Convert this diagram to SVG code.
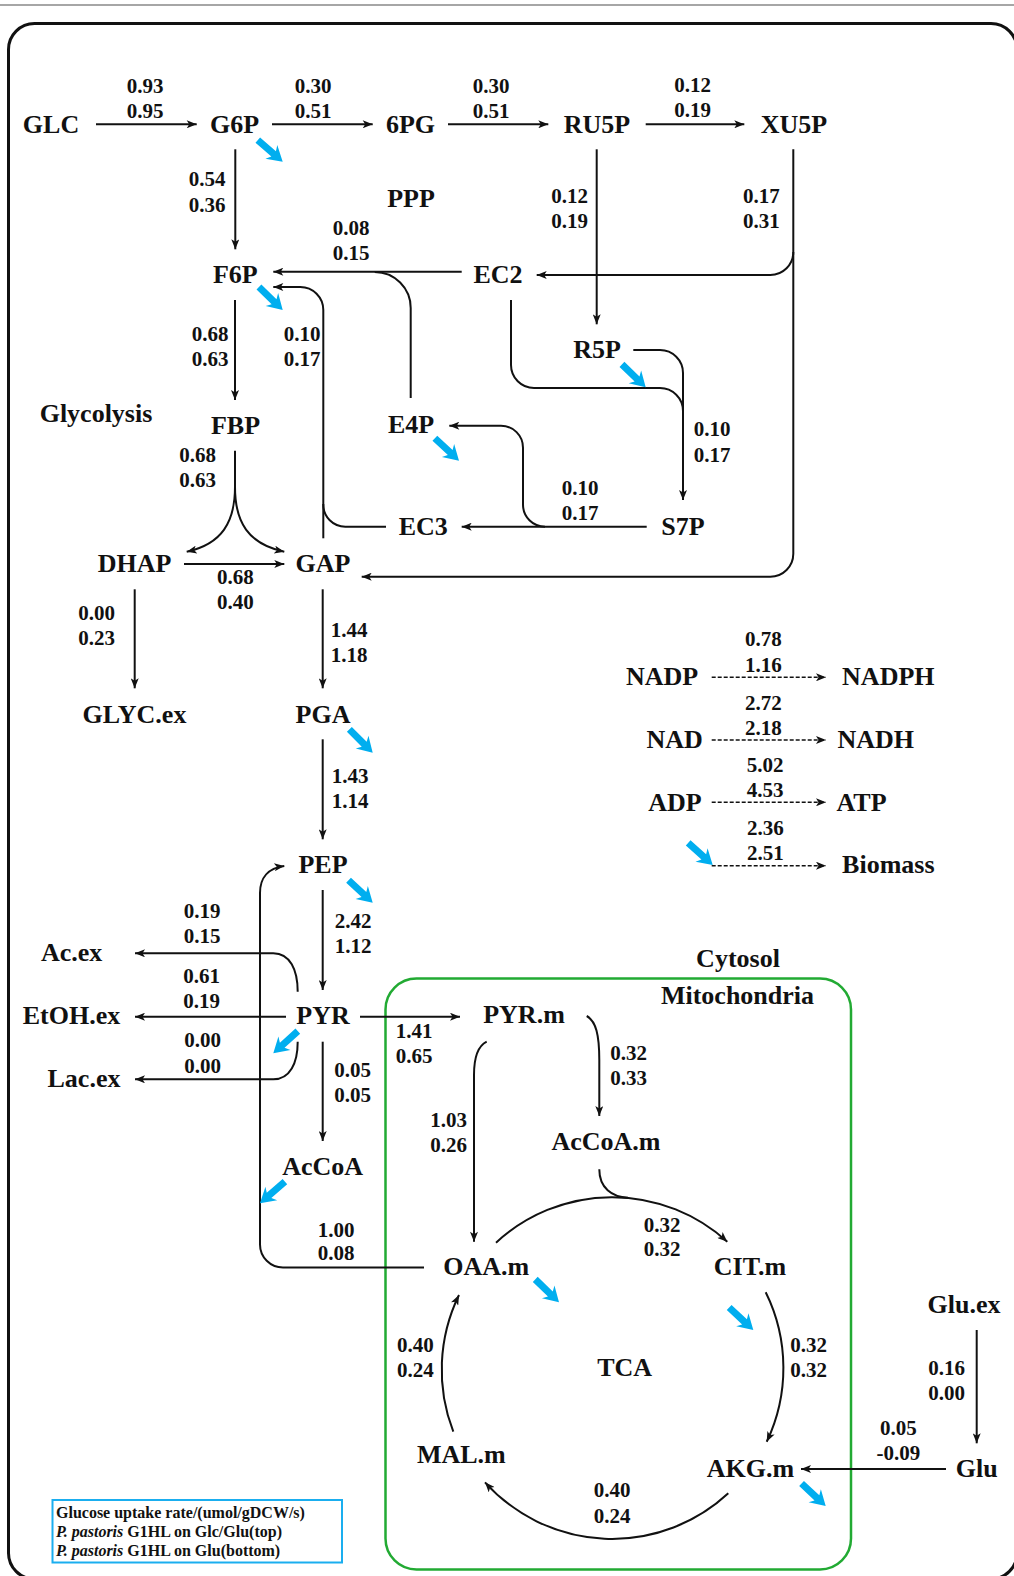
<svg xmlns="http://www.w3.org/2000/svg" xmlns:xlink="http://www.w3.org/1999/xlink" width="1014" height="1576" viewBox="0 0 1014 1576">
<defs>
<style>
.n{font-family:"Liberation Serif","Times New Roman",serif;font-weight:bold;font-size:26px;fill:#111;text-anchor:middle}
.v{font-family:"Liberation Serif","Times New Roman",serif;font-weight:bold;font-size:21px;fill:#111;text-anchor:middle}
.lg{font-family:"Liberation Serif","Times New Roman",serif;font-weight:bold;font-size:16px;fill:#111}
.c{fill:none;stroke:#111;stroke-width:2}
.a{marker-end:url(#ah)}
.d{fill:none;stroke:#111;stroke-width:1.6;stroke-dasharray:4 2;marker-end:url(#ah)}
.blue{fill:#00AEEF}
</style>
<marker id="ah" viewBox="0 0 10 8" refX="10" refY="4" markerWidth="11" markerHeight="8" markerUnits="userSpaceOnUse" orient="auto">
<path d="M0,0 L10,4 L0,8 L2.5,4 z" fill="#111"/>
</marker>
<path id="ba" d="M0,0 L-15,-9 L-12,-3.5 L-33,-3.5 L-33,3.5 L-12,3.5 L-15,9 Z"/>
</defs>
<rect width="1014" height="1576" fill="#fff"/>
<line x1="0" y1="5" x2="1014" y2="5" stroke="#888" stroke-width="1.5"/>
<rect x="8.5" y="23.5" width="1008.5" height="1555.5" rx="26" fill="none" stroke="#111" stroke-width="3"/>
<rect id="mito" x="385.5" y="978.5" width="465.5" height="591" rx="31" fill="none" stroke="#22AA33" stroke-width="2.5"/>

<g id="connectors">
<path class="c a" d="M96,124.3 H196.7"/>
<path class="c a" d="M272,124.3 H372.7"/>
<path class="c a" d="M448,124.3 H548.3"/>
<path class="c a" d="M645.7,124.3 H744.3"/>
<path class="c a" d="M235.3,149.3 V249.3"/>
<path class="c a" d="M461.7,271.7 H273.3"/>
<path class="c" d="M410.7,398 V308 A36,36 0 0 0 374.7,272"/>
<path class="c a" d="M793.3,149.3 V553.7 A23,23 0 0 1 770.3,576.7 H361.7"/>
<path class="c a" d="M793.3,252 A23,23 0 0 1 770.3,275 H536.7"/>
<path class="c a" d="M596.7,149.3 V324.3"/>
<path class="c" d="M511,300 V365 A23,23 0 0 0 534,388 H660 A23,23 0 0 1 683,411"/>
<path class="c a" d="M633.3,350 H660 A23,23 0 0 1 683,373 V500"/>
<path class="c a" d="M646.7,526.7 H461.7"/>
<path class="c a" d="M545,526.7 A22,22 0 0 1 523,504.7 V447.7 A22,22 0 0 0 501,425.7 H449.3"/>
<path class="c a" d="M386,526.7 H345.3 A22,22 0 0 1 323.3,504.7 V310 A23,23 0 0 0 300.3,287 H273.3"/>
<path class="c" d="M323.3,538.3 V504"/>
<path class="c a" d="M235,300 V400"/>
<path class="c" d="M235,450.7 V487"/>
<path class="c a" d="M235,487 C235,522 222,544 186.7,551.7"/>
<path class="c a" d="M235,487 C235,522 248,544 284.3,551.7"/>
<path class="c a" d="M184,564 H284.3"/>
<path class="c a" d="M134.7,589.3 V688.3"/>
<path class="c a" d="M322.7,589.3 V688.3"/>
<path class="c a" d="M322.7,739.3 V839.3"/>
<path class="c a" d="M322.7,890 V990"/>
<path class="c a" d="M297.7,991.7 C297.7,970 290,953.3 273.3,953.3 H135"/>
<path class="c a" d="M286,1016.7 H135"/>
<path class="c a" d="M297.7,1041.7 C297.7,1063 290,1079.3 273.3,1079.3 H135"/>
<path class="c a" d="M322.7,1041.7 V1141"/>
<path class="c a" d="M360,1016.7 H460"/>
<path class="c a" d="M424,1267.5 H283 A23,23 0 0 1 260,1244.5 V893 C260,878 268,868 284.3,866"/>
<path class="c a" d="M586.7,1016 C596,1021 599.3,1035 599.3,1060 V1116"/>
<path class="c a" d="M486.7,1041.7 C478,1046 474,1056 474,1075 V1241.7"/>
<path class="c" d="M599.3,1169.3 C599.3,1188 612,1197 628,1197.8"/>
<path class="c a" d="M496,1242.7 A171,171 0 0 1 727.3,1241.7"/>
<path class="c a" d="M765.7,1292.3 A171,171 0 0 1 766.7,1441.7"/>
<path class="c a" d="M728.3,1493.3 A171,171 0 0 1 485,1482.3"/>
<path class="c a" d="M453.3,1431.7 A171,171 0 0 1 459,1295"/>
<path class="c a" d="M946,1469 H801"/>
<path class="c a" d="M976.7,1330 V1443.3"/>
<path class="d" d="M711.7,677.3 H826"/>
<path class="d" d="M711.7,740 H826"/>
<path class="d" d="M711.7,802.3 H826"/>
<path class="d" d="M711.7,865.7 H826"/>
</g>

<g id="outflux" class="blue">
<use xlink:href="#ba" transform="translate(282.7,161.7) rotate(41)"/>
<use xlink:href="#ba" transform="translate(282.7,310) rotate(44)"/>
<use xlink:href="#ba" transform="translate(645.7,387.3) rotate(44)"/>
<use xlink:href="#ba" transform="translate(459,460.7) rotate(43)"/>
<use xlink:href="#ba" transform="translate(372.7,752.7) rotate(45)"/>
<use xlink:href="#ba" transform="translate(372.7,902.7) rotate(43)"/>
<use xlink:href="#ba" transform="translate(273.3,1053.3) rotate(138)"/>
<use xlink:href="#ba" transform="translate(260,1203.3) rotate(139)"/>
<use xlink:href="#ba" transform="translate(559,1302.3) rotate(44)"/>
<use xlink:href="#ba" transform="translate(753.3,1330) rotate(43)"/>
<use xlink:href="#ba" transform="translate(825.7,1506) rotate(43)"/>
<use xlink:href="#ba" transform="translate(712.7,865) rotate(42)"/>
</g>

<g id="nodes">
<g id="GLC"><text class="n" x="51" y="133">GLC</text></g>
<g id="G6P"><text class="n" x="234.5" y="133">G6P</text></g>
<g id="6PG"><text class="n" x="410.5" y="133">6PG</text></g>
<g id="RU5P"><text class="n" x="597" y="133">RU5P</text></g>
<g id="XU5P"><text class="n" x="794" y="133">XU5P</text></g>
<g id="PPP"><text class="n" x="411" y="207">PPP</text></g>
<g id="F6P"><text class="n" x="235.3" y="283.3">F6P</text></g>
<g id="EC2"><text class="n" x="498" y="283.3">EC2</text></g>
<g id="R5P"><text class="n" x="597" y="358.3">R5P</text></g>
<g id="Glycolysis"><text class="n" x="96" y="421.7">Glycolysis</text></g>
<g id="FBP"><text class="n" x="235.5" y="434">FBP</text></g>
<g id="E4P"><text class="n" x="411" y="433.3">E4P</text></g>
<g id="EC3"><text class="n" x="423.3" y="535">EC3</text></g>
<g id="S7P"><text class="n" x="683" y="535">S7P</text></g>
<g id="DHAP"><text class="n" x="134.5" y="571.7">DHAP</text></g>
<g id="GAP"><text class="n" x="323" y="571.7">GAP</text></g>
<g id="GLYCex"><text class="n" x="134.5" y="722.7">GLYC.ex</text></g>
<g id="PGA"><text class="n" x="323" y="722.7">PGA</text></g>
<g id="PEP"><text class="n" x="323" y="873.3">PEP</text></g>
<g id="Acex"><text class="n" x="71.7" y="961">Ac.ex</text></g>
<g id="EtOHex"><text class="n" x="71.5" y="1024">EtOH.ex</text></g>
<g id="PYR"><text class="n" x="323" y="1024">PYR</text></g>
<g id="Lacex"><text class="n" x="84" y="1087.3">Lac.ex</text></g>
<g id="AcCoA"><text class="n" x="322.7" y="1175">AcCoA</text></g>
<g id="Cytosol"><text class="n" x="738" y="966.7">Cytosol</text></g>
<g id="Mitochondria"><text class="n" x="737.5" y="1004">Mitochondria</text></g>
<g id="PYRm"><text class="n" x="524" y="1023.3">PYR.m</text></g>
<g id="AcCoAm"><text class="n" x="606" y="1150">AcCoA.m</text></g>
<g id="OAAm"><text class="n" x="486.3" y="1275">OAA.m</text></g>
<g id="CITm"><text class="n" x="750" y="1275">CIT.m</text></g>
<g id="TCA"><text class="n" x="624.7" y="1375.7">TCA</text></g>
<g id="MALm"><text class="n" x="461.3" y="1463.3">MAL.m</text></g>
<g id="AKGm"><text class="n" x="750.5" y="1476.7">AKG.m</text></g>
<g id="Gluex"><text class="n" x="964" y="1313.3">Glu.ex</text></g>
<g id="Glu"><text class="n" x="976.7" y="1476.7">Glu</text></g>
<g id="NADP"><text class="n" x="662" y="685">NADP</text></g>
<g id="NADPH"><text class="n" x="888.3" y="685">NADPH</text></g>
<g id="NAD"><text class="n" x="674.7" y="747.7">NAD</text></g>
<g id="NADH"><text class="n" x="875.7" y="747.7">NADH</text></g>
<g id="ADP"><text class="n" x="675" y="810.7">ADP</text></g>
<g id="ATP"><text class="n" x="861.5" y="810.7">ATP</text></g>
<g id="Biomass"><text class="n" x="888.3" y="873.3">Biomass</text></g>
</g>

<g id="fluxes">
<text class="v" x="145" y="93.3">0.93</text><text class="v" x="145" y="118.3">0.95</text>
<text class="v" x="313" y="93.3">0.30</text><text class="v" x="313" y="118.3">0.51</text>
<text class="v" x="491" y="93.3">0.30</text><text class="v" x="491" y="118.3">0.51</text>
<text class="v" x="692.5" y="92">0.12</text><text class="v" x="692.5" y="117">0.19</text>
<text class="v" x="207" y="186">0.54</text><text class="v" x="207" y="211.7">0.36</text>
<text class="v" x="351" y="235">0.08</text><text class="v" x="351" y="260">0.15</text>
<text class="v" x="569.5" y="203">0.12</text><text class="v" x="569.5" y="228">0.19</text>
<text class="v" x="761.3" y="203">0.17</text><text class="v" x="761.3" y="228">0.31</text>
<text class="v" x="210" y="341">0.68</text><text class="v" x="210" y="366">0.63</text>
<text class="v" x="302" y="341">0.10</text><text class="v" x="302" y="366">0.17</text>
<text class="v" x="712" y="436">0.10</text><text class="v" x="712" y="461.7">0.17</text>
<text class="v" x="197.5" y="461.7">0.68</text><text class="v" x="197.5" y="486.7">0.63</text>
<text class="v" x="580" y="495">0.10</text><text class="v" x="580" y="520">0.17</text>
<text class="v" x="235.3" y="583.5">0.68</text><text class="v" x="235.3" y="609">0.40</text>
<text class="v" x="96.7" y="620">0.00</text><text class="v" x="96.7" y="645">0.23</text>
<text class="v" x="349" y="636.7">1.44</text><text class="v" x="349" y="661.7">1.18</text>
<text class="v" x="350" y="783.3">1.43</text><text class="v" x="350" y="808.3">1.14</text>
<text class="v" x="763.3" y="645.7">0.78</text><text class="v" x="763.3" y="671.7">1.16</text>
<text class="v" x="763.3" y="710">2.72</text><text class="v" x="763.3" y="735">2.18</text>
<text class="v" x="765" y="772.3">5.02</text><text class="v" x="765" y="797.3">4.53</text>
<text class="v" x="765.3" y="835">2.36</text><text class="v" x="765.3" y="860">2.51</text>
<text class="v" x="202" y="917.7">0.19</text><text class="v" x="202" y="943.3">0.15</text>
<text class="v" x="353" y="927.7">2.42</text><text class="v" x="353" y="952.7">1.12</text>
<text class="v" x="201.7" y="983.3">0.61</text><text class="v" x="201.7" y="1008.3">0.19</text>
<text class="v" x="202.7" y="1046.7">0.00</text><text class="v" x="202.7" y="1072.7">0.00</text>
<text class="v" x="414" y="1038.3">1.41</text><text class="v" x="414" y="1063.3">0.65</text>
<text class="v" x="352.5" y="1076.7">0.05</text><text class="v" x="352.5" y="1101.7">0.05</text>
<text class="v" x="628.7" y="1060">0.32</text><text class="v" x="628.7" y="1085">0.33</text>
<text class="v" x="448.7" y="1126.7">1.03</text><text class="v" x="448.7" y="1151.7">0.26</text>
<text class="v" x="336" y="1236.7">1.00</text><text class="v" x="336" y="1260">0.08</text>
<text class="v" x="662" y="1231.7">0.32</text><text class="v" x="662" y="1256">0.32</text>
<text class="v" x="415.3" y="1351.7">0.40</text><text class="v" x="415.3" y="1376.7">0.24</text>
<text class="v" x="808.7" y="1351.7">0.32</text><text class="v" x="808.7" y="1376.7">0.32</text>
<text class="v" x="946.7" y="1375">0.16</text><text class="v" x="946.7" y="1400">0.00</text>
<text class="v" x="898.3" y="1435">0.05</text><text class="v" x="898.3" y="1460">-0.09</text>
<text class="v" x="612" y="1496.7">0.40</text><text class="v" x="612" y="1522.7">0.24</text>
</g>

<g id="legend">
<rect x="52.5" y="1500" width="289.5" height="62.5" fill="#fff" stroke="#1AAEEF" stroke-width="2"/>
<text class="lg" x="56" y="1517.7">Glucose uptake rate/(umol/gDCW/s)</text>
<text class="lg" x="56" y="1536.7"><tspan font-style="italic">P. pastoris</tspan> G1HL on Glc/Glu(top)</text>
<text class="lg" x="56" y="1556"><tspan font-style="italic">P. pastoris</tspan> G1HL on Glu(bottom)</text>
</g>
</svg>
